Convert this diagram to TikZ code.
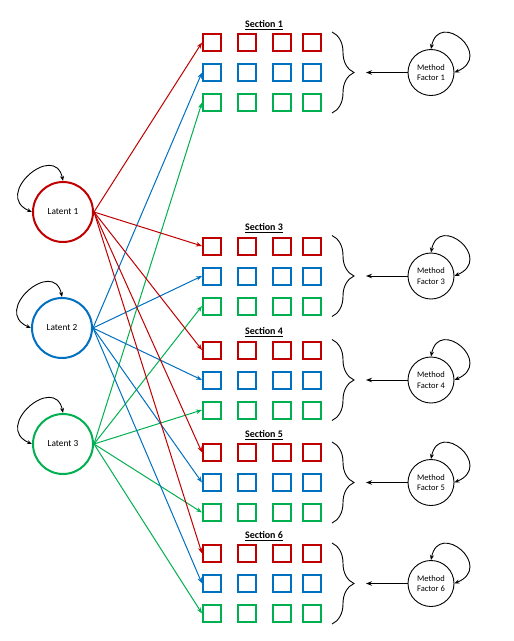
\documentclass[tikz,border=0pt]{standalone}
\usepackage{fontspec}
\setmainfont{Carlito}
\usetikzlibrary{arrows.meta,decorations.pathreplacing}
\definecolor{cred}{RGB}{192,0,0}
\definecolor{cblue}{RGB}{0,112,192}
\definecolor{cgreen}{RGB}{0,176,80}
\begin{document}
\begin{tikzpicture}[x=1pt,y=-1pt,
  ind/.style={draw,line width=2pt,minimum width=18pt,minimum height=17pt,inner sep=0pt},
  lat/.style={circle,draw,line width=2pt,minimum size=60pt,inner sep=0pt,font=\fontsize{9.3}{11}\selectfont},
  mf/.style={circle,draw,line width=0.9pt,minimum size=46pt,inner sep=0pt,align=center,font=\fontsize{8.5}{10.5}\selectfont},
  sec/.style={font=\bfseries\fontsize{10}{12}\selectfont},
  load/.style={line width=1pt,-{Stealth[length=6pt,width=4.5pt]}},
  mfarr/.style={line width=1pt,black,-{Stealth[length=6pt,width=4.5pt]}},
  vararr/.style={line width=0.9pt,black,{Stealth[length=5pt,width=4pt]}-{Stealth[length=5pt,width=4pt]}},
  br/.style={decorate,decoration={brace,amplitude=22pt},line width=0.9pt},
]
\useasboundingbox (0,0) rectangle (514,641);
\fill[white] (0,0) rectangle (514,641);

\node[lat,cred] (L1) at (63,212) {\color{black}Latent 1};
\node[lat,cblue] (L2) at (62,328) {\color{black}Latent 2};
\node[lat,cgreen] (L3) at (63,444) {\color{black}Latent 3};
\foreach \i in {1,2,3}{
  \draw[vararr] (L\i.north) .. controls +(-8,-40) and +(-40,-17) .. (L\i.west);
}

\foreach \s/\y in {1/42.5,3/246,4/350,5/452.5,6/553.5}{
  \node[sec] (t\s) at (264,\y-17.5) {\underline{Section \s}};
  \foreach \c/\x in {1/212,2/247,3/281.5,4/311.5}{
    \node[ind,cred] (r\s-\c) at (\x,\y) {};
    \node[ind,cblue] (b\s-\c) at (\x,\y+30) {};
    \node[ind,cgreen] (g\s-\c) at (\x,\y+60) {};
  }
  \node[mf] (m\s) at (431,\y+30) {Method\\Factor \s};
  \draw[vararr] (m\s.north) .. controls +(8,-40) and +(40,-17) .. (m\s.east);
  \draw[br] (332,\y-10.5) -- (332,\y+70.5);
  \coordinate (bt\s) at (366,\y+30);
  \draw[mfarr] (m\s.west) -- (bt\s);
}

\foreach \s in {1,3,4,5,6}{
  \draw[load,cred] (L1.east) -- (r\s-1.west);
  \draw[load,cblue] (L2.east) -- (b\s-1.west);
  \draw[load,cgreen] (L3.east) -- (g\s-1.west);
}
\end{tikzpicture}
\end{document}
